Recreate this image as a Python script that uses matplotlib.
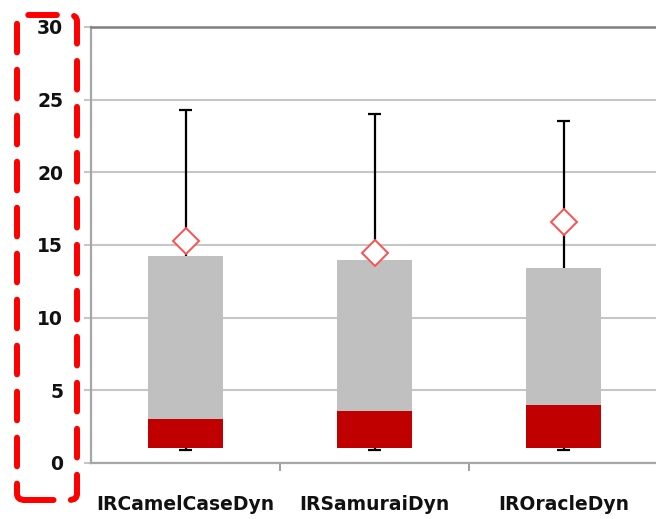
import matplotlib
matplotlib.use("Agg")
import matplotlib.pyplot as plt
from matplotlib.patches import FancyBboxPatch

# Box-plot summary per configuration
categories = ["IRCamelCaseDyn", "IRSamuraiDyn", "IROracleDyn"]
minimum = [0.9, 0.9, 0.9]
q1 = [1.0, 1.0, 1.0]
median = [3.0, 3.55, 4.0]
q3 = [14.25, 13.97, 13.42]
maximum = [24.3, 24.0, 23.5]
mean = [15.3, 14.45, 16.6]
y_ticks = [0, 5, 10, 15, 20, 25, 30]

fig = plt.figure(figsize=(6.56, 5.19), dpi=100)
ax = fig.add_axes([91 / 656, 56 / 519, 567 / 656, 436 / 519])

x = list(range(1, len(categories) + 1))
width = 0.40

# whiskers (drawn first so the boxes and mean markers sit on top)
for xi, lo, hi in zip(x, minimum, maximum):
    ax.vlines(xi, lo, hi, color="black", lw=1.6, zorder=2)
    ax.hlines([lo, hi], xi - 0.037, xi + 0.037, color="black", lw=1.6, zorder=2)

lower = [m - a for a, m in zip(q1, median)]
upper = [b - m for m, b in zip(median, q3)]
ax.bar(x, lower, width, bottom=q1, color="#C00000", zorder=3)
ax.bar(x, upper, width, bottom=median, color="#C0C0C0", zorder=3)

ax.plot(x, mean, linestyle="none", marker="D", ms=13.5, mfc="white",
        mec="#FF4F4F", mew=1.4, zorder=4)

ax.set_xlim(0.5, 3.5)
ax.set_ylim(0, 30)
ax.set_yticks(y_ticks)
ax.set_yticklabels([str(t) for t in y_ticks], fontsize=13.5,
                   fontweight="bold", color="#111111")
ax.yaxis.grid(True, color="#C6C6C6", lw=1.5)
ax.set_axisbelow(True)
ax.tick_params(axis="y", length=5, width=1.5, color="#C6C6C6", pad=15)

ax.set_xticks(x)
ax.set_xticklabels(categories, fontsize=13.5, fontweight="bold", color="#111111")
ax.set_xticks([1.5, 2.5], minor=True)
ax.tick_params(axis="x", which="major", length=0, pad=23)
ax.tick_params(axis="x", which="minor", length=6, width=1.2, color="#8C8C8C")

for side in ("left", "bottom"):
    ax.spines[side].set_color("#A6A6A6")
    ax.spines[side].set_linewidth(1.6)
ax.spines["top"].set_color("#7F7F7F")
ax.spines["top"].set_linewidth(1.8)
ax.spines["right"].set_visible(False)

# dashed highlight around the value axis labels
box = FancyBboxPatch((17 / 656, 1 - 500 / 519), 60 / 656, 485 / 519,
                     boxstyle="round,pad=0,rounding_size=0.012",
                     transform=fig.transFigure, fill=False, edgecolor="#FF0000",
                     lw=4.3, linestyle=(0, (4.8, 2.9)), capstyle="round",
                     clip_on=False)
fig.patches.append(box)

fig.savefig("out.png", dpi=100)
